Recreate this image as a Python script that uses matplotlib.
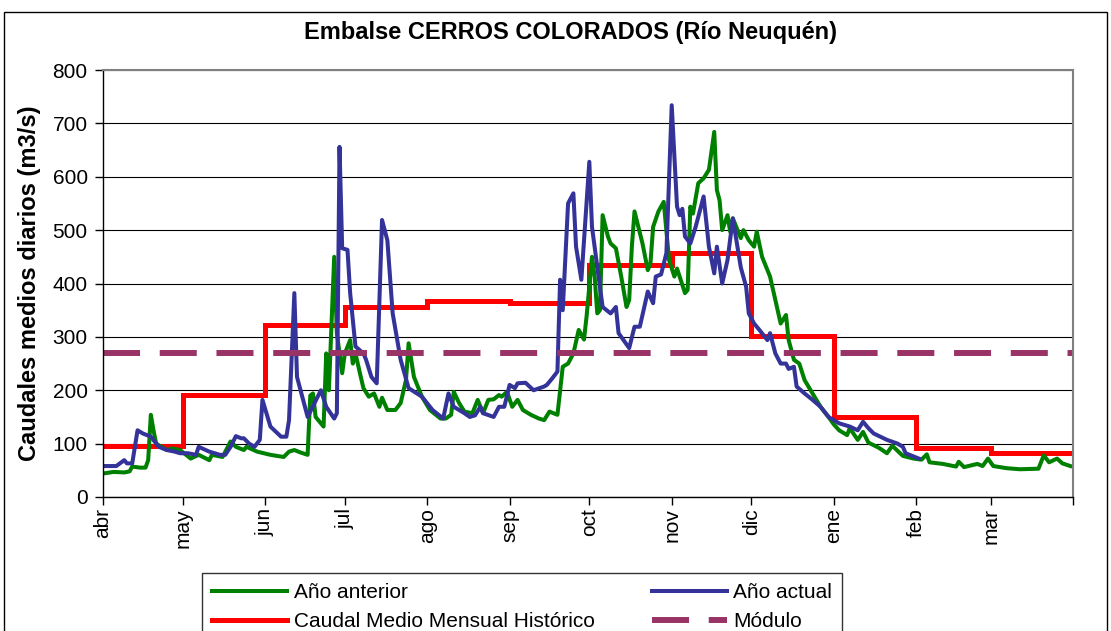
import numpy as np
import matplotlib.pyplot as plt
from matplotlib.patches import Rectangle

plt.rcParams['font.family'] = ['Liberation Sans', 'DejaVu Sans']

# dias contados desde el 1 de abril
meses = ['abr', 'may', 'jun', 'jul', 'ago', 'sep', 'oct', 'nov', 'dic', 'ene', 'feb', 'mar']
inicio_mes = [0, 30, 61, 91, 122, 153, 183, 214, 244, 275, 306, 334, 365]

# Caudal medio mensual historico (m3/s)
caudal_historico = [96, 191, 322, 356, 367, 363, 435, 458, 302, 149, 92, 82]
modulo = 270

# Año anterior (dia, caudal)
dia_ant = [0, 4, 8, 10, 11, 14, 16, 17, 18, 19, 20, 22, 24, 26, 29, 33, 36, 40, 41, 45,
           48, 50, 53, 54, 58, 63, 68, 70, 72, 74, 77, 78, 79, 80, 83, 84, 85, 87, 88, 90,
           91, 93, 94, 95, 97, 98, 100, 102, 104, 105, 107, 110, 112, 114, 115, 117, 119, 120, 123, 127,
           129, 131, 132, 134, 136, 139, 141, 143, 145, 147, 149, 150, 152, 154, 156, 158, 161, 164, 166, 168,
           171, 173, 175, 177, 179, 181, 182, 184, 185, 186, 187, 188, 190, 191, 193, 195, 197, 198, 199, 200,
           203, 205, 206, 207, 209, 211, 213, 215, 216, 219, 220, 221, 222, 224, 226, 228, 230, 231, 232, 233,
           235, 236, 237, 240, 241, 243, 245, 246, 248, 251, 253, 255, 257, 258, 260, 262, 264, 267, 270, 273,
           275, 277, 280, 281, 284, 286, 288, 292, 295, 297, 301, 305, 308, 310, 311, 316, 321, 322, 324, 329,
           331, 333, 335, 340, 345, 352, 354, 356, 359, 361, 364]
caudal_ant = [44, 47, 46, 48, 57, 55, 55, 69, 154, 125, 100, 94, 88, 91, 88, 72, 79, 69, 79, 75,
              104, 94, 88, 94, 85, 79, 75, 85, 88, 84, 79, 190, 194, 150, 132, 269, 200, 450, 307, 232,
              269, 294, 250, 269, 225, 204, 188, 194, 169, 186, 163, 163, 176, 219, 288, 225, 200, 188, 163, 147,
              147, 154, 197, 176, 160, 157, 182, 157, 182, 183, 191, 188, 197, 169, 182, 163, 154, 147, 144, 160,
              154, 244, 250, 269, 313, 295, 340, 450, 413, 344, 350, 528, 488, 475, 466, 413, 356, 369, 469, 535,
              475, 425, 438, 506, 535, 553, 444, 413, 428, 382, 388, 544, 531, 588, 597, 613, 684, 575, 556, 500,
              528, 497, 522, 485, 500, 481, 469, 497, 450, 413, 369, 325, 341, 294, 257, 250, 219, 194, 169, 150,
              136, 125, 116, 129, 107, 122, 102, 92, 82, 96, 77, 72, 70, 80, 65, 62, 57, 66, 56, 62,
              58, 72, 58, 54, 52, 53, 78, 65, 72, 63, 58]

# Año actual (dia, caudal)
dia_act = [0, 5, 8, 9, 11, 13, 15, 18, 21, 24, 27, 29, 32, 35, 36, 40, 44, 46, 48, 50,
           52, 53, 55, 57, 59, 60, 63, 67, 69, 70, 72, 73, 77, 82, 84, 87, 88, 89, 90, 92,
           93, 95, 98, 99, 101, 103, 105, 107, 109, 112, 115, 120, 124, 128, 130, 132, 136, 138, 140, 142,
           143, 147, 149, 151, 153, 155, 156, 159, 162, 166, 167, 169, 171, 172, 173, 175, 177, 178, 180, 181,
           183, 184, 187, 188, 191, 193, 194, 198, 200, 202, 205, 207, 208, 210, 212, 214, 216, 217, 218, 219,
           221, 223, 226, 228, 230, 231, 233, 235, 237, 240, 242, 243, 245, 247, 250, 251, 253, 255, 257, 258,
           260, 261, 264, 267, 270, 273, 277, 281, 284, 286, 288, 290, 295, 299, 301, 302, 304, 307]
caudal_act = [58, 58, 69, 63, 63, 125, 119, 113, 94, 88, 85, 82, 82, 79, 94, 85, 79, 79, 94, 114,
              110, 110, 100, 94, 107, 182, 132, 113, 113, 144, 382, 225, 150, 200, 169, 147, 157, 656, 466, 463,
              382, 282, 269, 257, 225, 213, 519, 481, 344, 257, 204, 188, 163, 147, 194, 169, 157, 150, 153, 169,
              157, 150, 169, 169, 210, 204, 213, 214, 200, 207, 210, 222, 235, 407, 350, 550, 569, 469, 407, 481,
              628, 506, 394, 356, 344, 356, 307, 279, 319, 319, 385, 363, 413, 417, 457, 734, 544, 528, 540, 488,
              475, 506, 563, 469, 419, 469, 400, 444, 522, 430, 394, 344, 325, 313, 294, 307, 269, 250, 250, 240,
              244, 207, 194, 182, 169, 150, 138, 132, 125, 141, 129, 119, 107, 100, 94, 82, 78, 72]

fig = plt.figure(figsize=(11.11, 6.31), dpi=100)
ax = fig.add_axes([103 / 1111, 1 - 497 / 631, 970 / 1111, 427 / 631])

l1, = ax.plot(dia_ant, caudal_ant, color='#008000', lw=2.9, label='Año anterior')
l2, = ax.plot(dia_act, caudal_act, color='#333399', lw=2.9, label='Año actual')
l3 = ax.stairs(caudal_historico, inicio_mes, baseline=None, color='#FF0000', lw=3.6,
               label='Caudal Medio Mensual Histórico')
l4 = ax.axhline(modulo, color='#993366', lw=4.3, dashes=(6.2, 3.3), label='Módulo')

ax.set_xlim(0, 365)
ax.set_ylim(0, 800)
ax.set_yticks(range(0, 801, 100))
ax.set_xticks(inicio_mes)
ax.set_xticklabels(meses + [''], rotation=90, va='top', ha='center')
ax.tick_params(axis='x', direction='out', length=6, width=1, pad=2, labelsize=15)
ax.tick_params(axis='y', direction='out', length=6, width=1, pad=5, labelsize=15)
ax.grid(axis='y', color='black', lw=0.8)
ax.set_axisbelow(True)
for s in ['top', 'right']:
    ax.spines[s].set_color('#808080')
    ax.spines[s].set_linewidth(1.5)
for s in ['left', 'bottom']:
    ax.spines[s].set_color('black')
    ax.spines[s].set_linewidth(1)

ax.set_ylabel('Caudales medios diarios (m3/s)', fontsize=17, fontweight='bold', labelpad=8)
fig.text(571 / 1111, 1 - 33 / 631, 'Embalse CERROS COLORADOS (Río Neuquén)', ha='center', va='center',
         fontsize=17, fontweight='bold')

# leyenda en dos columnas, ordenada por filas
leg = fig.legend([l1, l3, l2, l4], ['Año anterior', 'Caudal Medio Mensual Histórico', 'Año actual', 'Módulo'],
                 ncol=2, loc='upper left', bbox_to_anchor=(202 / 1111, 1 - 573 / 631),
                 fontsize=15, frameon=True, fancybox=False, edgecolor='black', borderpad=0.5,
                 handlelength=3.6, handletextpad=0.3, columnspacing=2.75, labelspacing=0.45,
                 borderaxespad=0)
leg.get_frame().set_linewidth(1)

fig.patches.append(Rectangle((4 / 1111, -0.2), 1103 / 1111, 1.2 - 12 / 631, transform=fig.transFigure,
                             fill=False, ec='black', lw=1))

fig.savefig('out.png', dpi=100)
